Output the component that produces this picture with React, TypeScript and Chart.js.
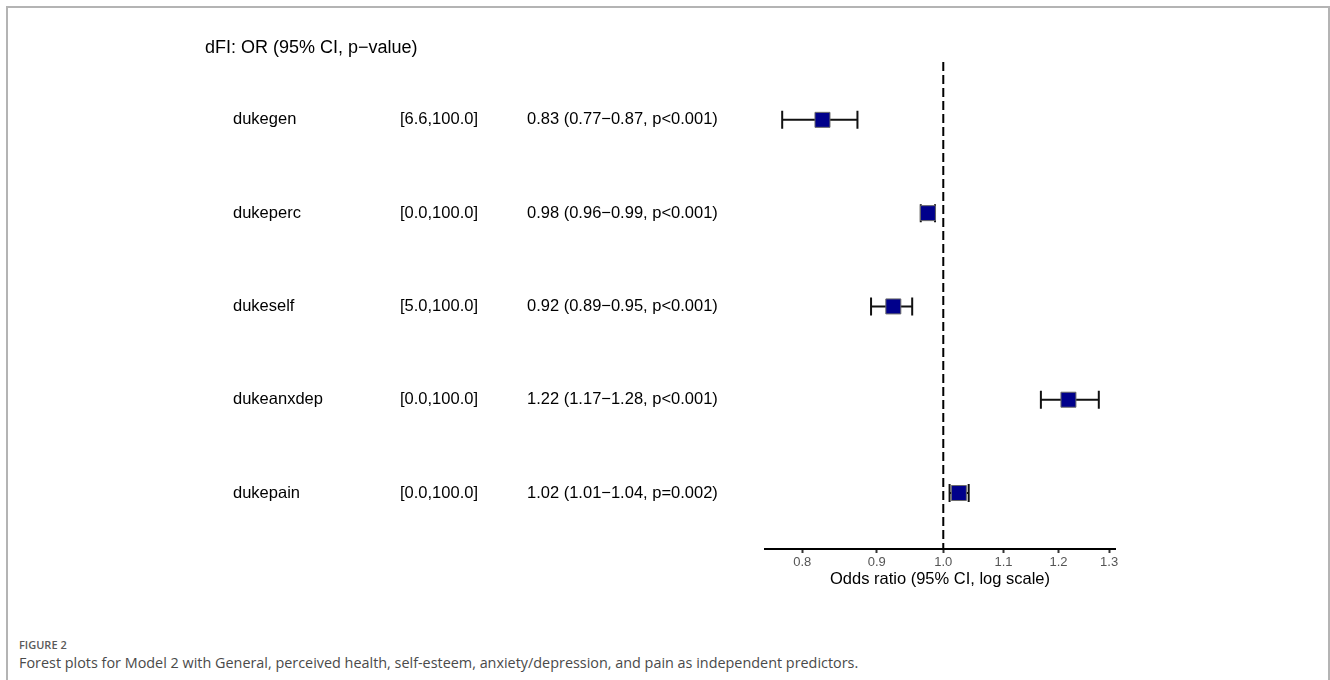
import React, { useEffect, useRef } from "react";
import { Chart, registerables } from "chart.js";

Chart.register(...registerables);

// ---- data ----
const variables = ["dukegen", "dukeperc", "dukeself", "dukeanxdep", "dukepain"];
const ranges = ["[6.6,100.0]", "[0.0,100.0]", "[5.0,100.0]", "[0.0,100.0]", "[0.0,100.0]"];
const estimateLabels = [
  "0.83 (0.77\u22120.87, p<0.001)",
  "0.98 (0.96\u22120.99, p<0.001)",
  "0.92 (0.89\u22120.95, p<0.001)",
  "1.22 (1.17\u22121.28, p<0.001)",
  "1.02 (1.01\u22121.04, p=0.002)",
];
const oddsRatios = [0.826, 0.976, 0.924, 1.219, 1.025];
const ciLower = [0.775, 0.965, 0.892, 1.167, 1.01];
const ciUpper = [0.873, 0.987, 0.952, 1.279, 1.041];
const xTicks = [0.8, 0.9, 1.0, 1.1, 1.2, 1.3];
const panelTitle = "dFI: OR (95% CI, p\u2212value)";
const axisTitle = "Odds ratio (95% CI, log scale)";
const figureLabel = "FIGURE 2";
const captionText =
  "Forest plots for Model 2 with General, perceived health, self-esteem, anxiety/depression, and pain as independent predictors.";

const FONT = '"Liberation Sans", Arial, Helvetica, sans-serif';

const forestPlugin = {
  id: "forest",
  beforeDatasetsDraw(chart: any) {
    const { ctx, chartArea, scales } = chart;
    const x = scales.x;
    const y = scales.y;
    ctx.save();
    // reference line at OR = 1
    const x1 = x.getPixelForValue(1);
    ctx.strokeStyle = "#000";
    ctx.lineWidth = 2;
    ctx.setLineDash([9, 4]);
    ctx.beginPath();
    ctx.moveTo(x1, chartArea.top);
    ctx.lineTo(x1, chartArea.bottom);
    ctx.stroke();
    ctx.setLineDash([]);
    // confidence intervals
    ctx.lineWidth = 2;
    ctx.strokeStyle = "#111";
    for (let i = 0; i < oddsRatios.length; i++) {
      const yp = y.getPixelForValue(i);
      const xl = x.getPixelForValue(ciLower[i]);
      const xu = x.getPixelForValue(ciUpper[i]);
      ctx.beginPath();
      ctx.moveTo(xl, yp);
      ctx.lineTo(xu, yp);
      ctx.moveTo(xl, yp - 9);
      ctx.lineTo(xl, yp + 9);
      ctx.moveTo(xu, yp - 9);
      ctx.lineTo(xu, yp + 9);
      ctx.stroke();
    }
    ctx.restore();
  },
  afterDraw(chart: any) {
    const { ctx, scales } = chart;
    const y = scales.y;
    ctx.save();
    ctx.fillStyle = "#000";
    ctx.textBaseline = "middle";
    ctx.textAlign = "left";
    ctx.font = `18px ${FONT}`;
    ctx.fillText(panelTitle, 205, 48);
    ctx.font = `16.5px ${FONT}`;
    for (let i = 0; i < variables.length; i++) {
      const yp = y.getPixelForValue(i);
      ctx.fillText(variables[i], 233, yp);
      ctx.fillText(ranges[i], 400, yp);
      ctx.fillText(estimateLabels[i], 527, yp);
    }
    ctx.restore();
  },
};

export default function App() {
  const ref = useRef<HTMLCanvasElement | null>(null);

  useEffect(() => {
    if (!ref.current) return;
    const chart = new Chart(ref.current, {
      type: "scatter",
      data: {
        datasets: [
          {
            data: oddsRatios.map((v, i) => ({ x: v, y: i })),
            pointStyle: "rect",
            pointRadius: 10.6,
            pointHoverRadius: 10.6,
            backgroundColor: "#00008B",
            borderColor: "#6a6a6a",
            borderWidth: 1,
          },
        ],
      },
      options: {
        animation: false,
        responsive: false,
        devicePixelRatio: 1,
        events: [],
        layout: { padding: { left: 765, right: 215, top: 62, bottom: 23 } },
        plugins: {
          legend: { display: false },
          tooltip: { enabled: false },
          title: { display: false },
        },
        scales: {
          x: {
            type: "logarithmic",
            min: 0.7542,
            max: 1.3122,
            afterFit(scale: any) {
              scale.height = 48;
            },
            afterBuildTicks(scale: any) {
              scale.ticks = xTicks.map((v) => ({ value: v }));
            },
            border: { display: true, color: "#000", width: 2 },
            grid: {
              display: true,
              drawOnChartArea: false,
              drawTicks: true,
              tickLength: 4,
              tickWidth: 2,
              tickColor: "#333",
            },
            ticks: {
              autoSkip: false,
              maxRotation: 0,
              padding: 2,
              color: "#555",
              font: { family: FONT, size: 13 },
              callback: (v: any) => Number(v).toFixed(1),
            },
            title: {
              display: true,
              text: axisTitle,
              color: "#000",
              font: { family: FONT, size: 16.5 },
              padding: { top: 0, bottom: 8 },
            },
          },
          y: {
            type: "linear",
            reverse: true,
            min: -0.62,
            max: 4.6,
            display: false,
          },
        },
      },
      plugins: [forestPlugin],
    });
    return () => chart.destroy();
  }, []);

  return (
    <div
      style={{
        position: "absolute",
        left: 0,
        top: 0,
        width: 1330,
        height: 680,
        overflow: "hidden",
        background: "#fff",
      }}
    >
      <div
        style={{
          position: "absolute",
          left: 6,
          top: 6,
          width: 1320,
          height: 720,
          border: "2px solid #b4b4b4",
          boxSizing: "content-box",
        }}
      />
      <canvas
        ref={ref}
        width={1330}
        height={620}
        style={{ position: "absolute", left: 0, top: 0, width: 1330, height: 620 }}
      />
      <div
        style={{
          position: "absolute",
          left: 19,
          top: 637,
          fontFamily: '"Open Sans", "Noto Sans", sans-serif',
          fontSize: 11,
          fontWeight: 600,
          color: "#5a5a5a",
          lineHeight: "16px",
          whiteSpace: "nowrap",
        }}
      >
        {figureLabel}
      </div>
      <div
        style={{
          position: "absolute",
          left: 19,
          top: 653,
          fontFamily: '"Open Sans", "Noto Sans", sans-serif',
          fontSize: 14.4,
          color: "#4a4a4a",
          lineHeight: "20px",
          whiteSpace: "nowrap",
        }}
      >
        {captionText}
      </div>
    </div>
  );
}
